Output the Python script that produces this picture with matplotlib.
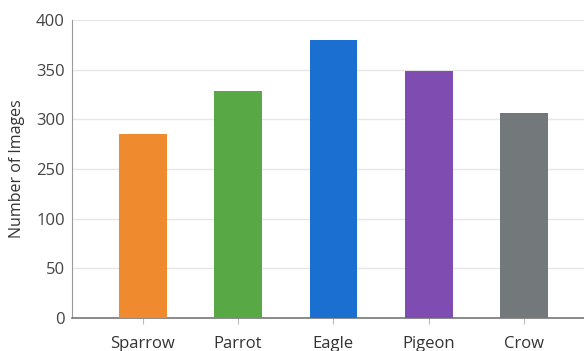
import numpy as np
import matplotlib
matplotlib.use("Agg")
import matplotlib.pyplot as plt

# ============================================================
# Data
# ============================================================
birds = ["Sparrow", "Parrot", "Eagle", "Pigeon", "Crow"]
image_counts = [285, 329, 380, 349, 306]
bar_colors = ["#EF8A2E", "#58A845", "#1B6FD1", "#7F4DB2", "#73787A"]
y_ticks = [0, 50, 100, 250, 300, 350, 400]

plt.rcParams["font.family"] = ["Open Sans", "DejaVu Sans"]

# broken y axis: 100..250 squeezed into one tick step
def fwd(v):
    v = np.asarray(v, dtype=float)
    return np.where(v <= 100, v, np.where(v <= 250, 100 + (v - 100) / 3, v - 100))


def inv(u):
    u = np.asarray(u, dtype=float)
    return np.where(u <= 100, u, np.where(u <= 150, 100 + (u - 100) * 3, u + 100))


fig = plt.figure(figsize=(5.84, 3.51), dpi=100)
ax = fig.add_axes([0.123, 0.094, 0.877, 0.849])
ax.set_yscale("function", functions=(fwd, inv))

x = np.arange(len(birds))
ax.bar(x, image_counts, width=0.5, color=bar_colors, zorder=3)

ax.set_xlim(-0.745, 4.63)
ax.set_ylim(0, 400)
ax.set_yticks(y_ticks)
ax.set_yticklabels([str(t) for t in y_ticks])
ax.set_xticks(x)
ax.set_xticklabels(birds)

ax.set_ylabel("Number of Images", fontsize=11.5, color="#333333", labelpad=8)
ax.tick_params(axis="y", length=0, labelsize=12, labelcolor="#444444", pad=5)
ax.tick_params(axis="x", length=4, color="#bbbbbb", labelsize=12,
               labelcolor="#333333", pad=9)
ax.minorticks_off()

ax.grid(axis="y", color="#e6e6e6", linewidth=1.0, zorder=0)
for side in ["top", "right"]:
    ax.spines[side].set_visible(False)
ax.spines["left"].set_color("#999999")
ax.spines["bottom"].set_color("#777777")
ax.spines["bottom"].set_linewidth(1.2)

fig.savefig("out.png", dpi=100)
